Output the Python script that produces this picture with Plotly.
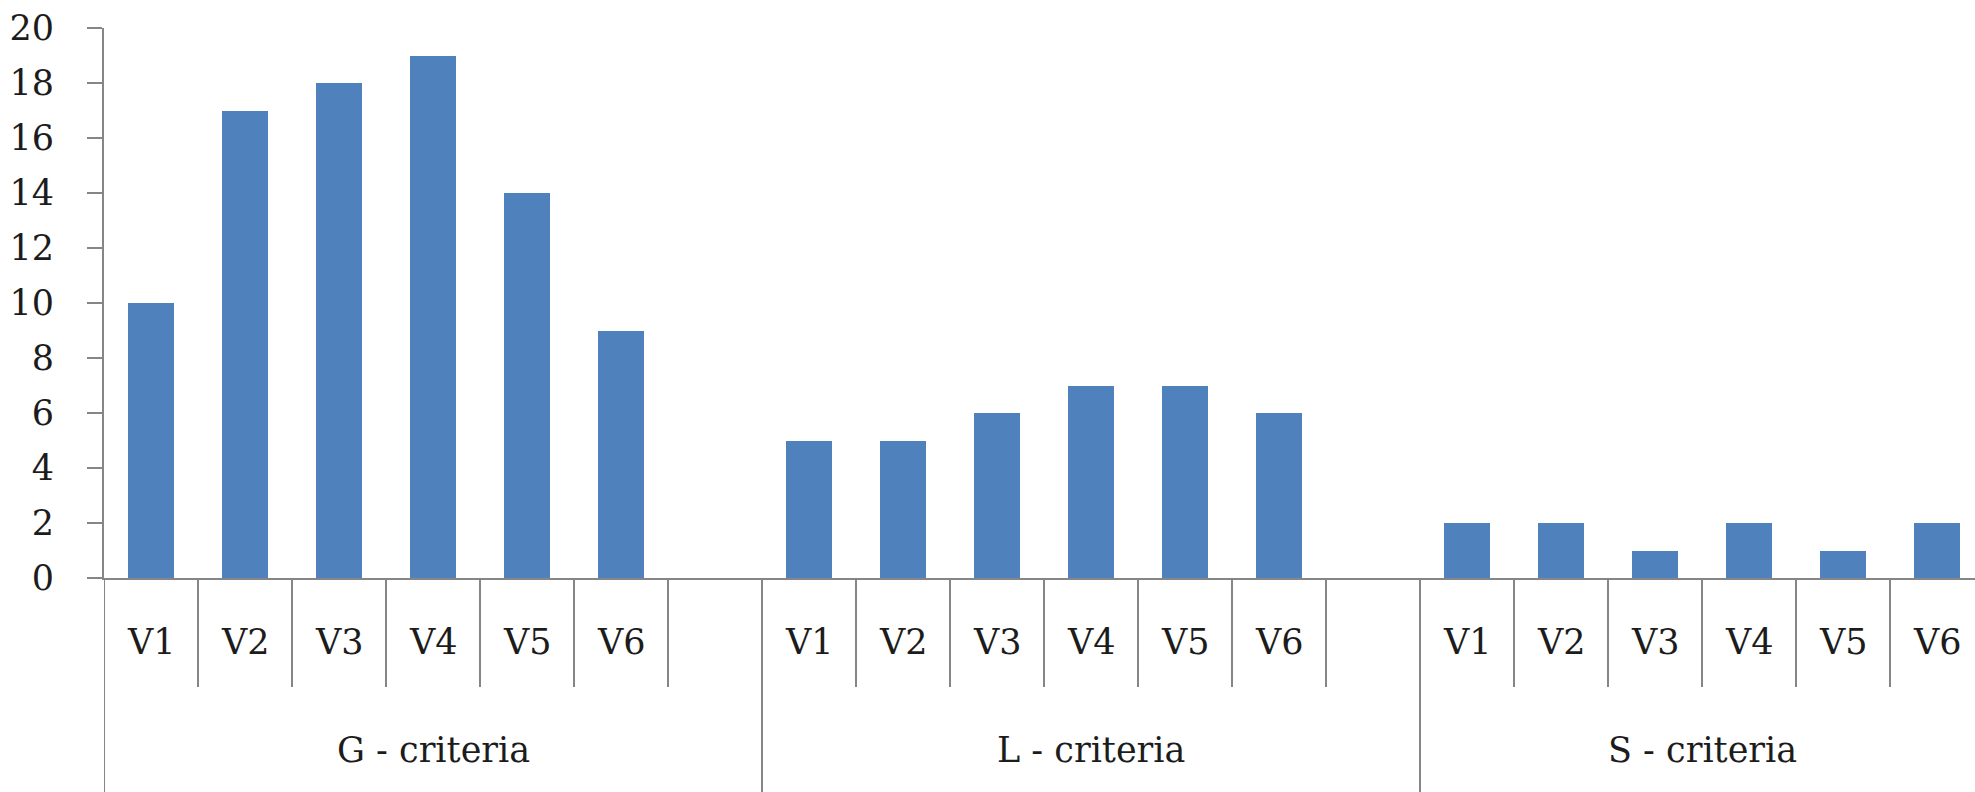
import plotly.graph_objects as go

# Criteria groups and the variants scored within each group
groups = ["G - criteria", "L - criteria", "S - criteria"]
variants = ["V1", "V2", "V3", "V4", "V5", "V6"]

g_values = [10, 17, 18, 19, 14, 9]
l_values = [5, 5, 6, 7, 7, 6]
s_values = [2, 2, 1, 2, 1, 2]

y_ticks = [0, 2, 4, 6, 8, 10, 12, 14, 16, 18, 20]

series = [g_values, l_values, s_values]

BAR_COLOR = "#4F81BD"
AXIS_COLOR = "#868686"
TEXT_COLOR = "#1c1c1c"
FONT = "DejaVu Serif"
FONT_SIZE = 35

# Category slots: every group but the last gets one blank spacer slot after it
xs, ys = [], []
group_bounds = []
pos = 0
for gi, vals in enumerate(series):
    start = pos
    for v in vals:
        xs.append(pos)
        ys.append(v)
        pos += 1
    if gi < len(series) - 1:
        pos += 1  # blank spacer category
    group_bounds.append((start, pos))

fig = go.Figure(
    go.Bar(
        x=xs,
        y=ys,
        width=0.49,
        marker=dict(color=BAR_COLOR, line=dict(width=0)),
        hoverinfo="x+y",
    )
)

# Geometry of the two-level category band under the plot (paper units)
PLOT_H = 550
inner_bottom = -(687 - 578) / PLOT_H
outer_bottom = -0.45
label_y = -(642 - 578) / PLOT_H
group_label_y = -(750 - 578) / PLOT_H

shapes = []
annotations = []

for gi, (start, end) in enumerate(group_bounds):
    # Slot dividers inside the group
    for k in range(start + 1, end + 1):
        shapes.append(dict(
            type="line", xref="x", yref="paper",
            x0=k - 0.5, x1=k - 0.5, y0=0, y1=inner_bottom,
            line=dict(color=AXIS_COLOR, width=2),
        ))
    # Group boundary on the left side, running the full depth of the band
    shapes.append(dict(
        type="line", xref="x", yref="paper",
        x0=start - 0.5, x1=start - 0.5, y0=0, y1=outer_bottom,
        line=dict(color=AXIS_COLOR, width=2),
    ))
    # Variant labels
    for i, name in enumerate(variants):
        annotations.append(dict(
            x=start + i, y=label_y, xref="x", yref="paper",
            text=name, showarrow=False, xanchor="center", yanchor="middle",
            font=dict(family=FONT, size=FONT_SIZE, color=TEXT_COLOR),
        ))
    # Group label centred over the group's slots
    annotations.append(dict(
        x=(start + end - 1) / 2, y=group_label_y, xref="x", yref="paper",
        text=groups[gi], showarrow=False, xanchor="center", yanchor="middle",
        font=dict(family=FONT, size=FONT_SIZE, color=TEXT_COLOR),
    ))

SLOT_PX = 94.0
LEFT = 104
x_max = -0.5 + (1975 - LEFT) / SLOT_PX

fig.update_layout(
    width=1975,
    height=792,
    margin=dict(l=LEFT, r=0, t=28, b=792 - 578),
    paper_bgcolor="white",
    plot_bgcolor="white",
    showlegend=False,
    bargap=0,
    shapes=shapes,
    annotations=annotations,
    font=dict(family=FONT, size=FONT_SIZE, color=TEXT_COLOR),
    xaxis=dict(
        range=[-0.5, x_max],
        showticklabels=False,
        ticks="",
        showgrid=False,
        zeroline=False,
        showline=True,
        linecolor=AXIS_COLOR,
        linewidth=2,
        fixedrange=True,
    ),
    yaxis=dict(
        range=[0, 20],
        tickvals=y_ticks,
        ticktext=[str(t) for t in y_ticks],
        ticks="outside",
        ticklen=15,
        tickwidth=2,
        tickcolor=AXIS_COLOR,
        ticklabelstandoff=26,
        showgrid=False,
        zeroline=False,
        showline=True,
        linecolor=AXIS_COLOR,
        linewidth=2,
        tickfont=dict(family=FONT, size=FONT_SIZE, color=TEXT_COLOR),
        fixedrange=True,
    ),
)

fig.write_html("out.html")
